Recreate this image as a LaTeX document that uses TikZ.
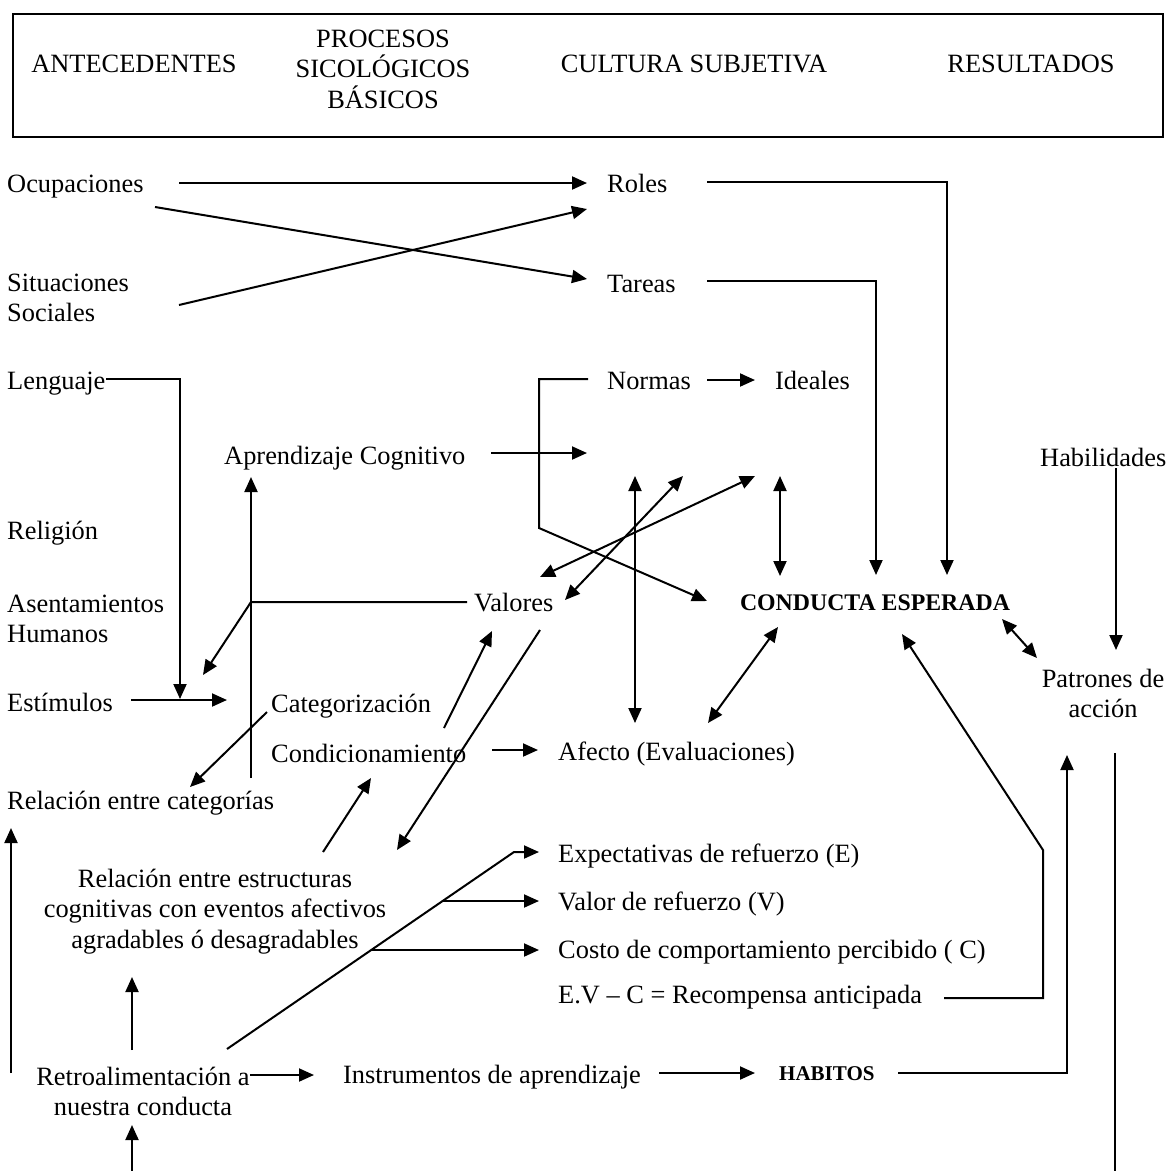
\documentclass[tikz,border=0pt]{standalone}
\usepackage{fontspec}
\setmainfont{Liberation Serif}
\usetikzlibrary{arrows.meta}
\newcommand{\ftop}{\rule{0pt}{24pt}}
\begin{document}
\begin{tikzpicture}[x=1pt,y=-1pt,
  txt/.style={inner sep=0pt, font=\fontsize{26.4}{30.5}\selectfont},
  lbl/.style={txt, anchor=base west},
  blk/.style={txt, anchor=north, align=center},
  line/.style={line width=2pt},
  arr/.style={line, -{Triangle[length=15pt,width=13pt]}},
  dbl/.style={line, {Triangle[length=15pt,width=13pt]}-{Triangle[length=15pt,width=13pt]}},
]
\useasboundingbox (0,0) rectangle (1166,1171);
\fill[white] (0,0) rectangle (1166,1171);

% heading band
\node[draw, line width=2.4pt, minimum width=1150pt, minimum height=123pt,
      inner sep=0pt, anchor=north west] (head) at (12,13) {};
\node[txt, anchor=base] (ant) at (134,72) {ANTECEDENTES};
\node[blk] (proc) at (383,23) {\ftop PROCESOS\\SICOLÓGICOS\\BÁSICOS};
\node[txt, anchor=base] (cult) at (694,72) {CULTURA SUBJETIVA};
\node[txt, anchor=base] (res) at (1031,72) {RESULTADOS};

% antecedents
\node[lbl] (ocup) at (7,192) {Ocupaciones};
\node[txt, anchor=north west, align=left] (situ) at (7,267) {\ftop Situaciones\\Sociales};
\node[lbl] (leng) at (7,389) {Lenguaje};
\node[lbl] (relig) at (7,539) {Religión};
\node[txt, anchor=north west, align=left] (asent) at (7,588) {\ftop Asentamientos\\Humanos};
\node[lbl] (estim) at (7,711) {Estímulos};
\node[lbl] (relcat) at (7,809) {Relación entre categorías};
\node[blk] (relest) at (215,863) {\ftop Relación entre estructuras\\cognitivas con eventos afectivos\\agradables ó desagradables};
\node[blk] (retro) at (143,1061) {\ftop Retroalimentación a\\nuestra conducta};

% processes and subjective culture
\node[lbl] (aprend) at (224,464) {Aprendizaje Cognitivo};
\node[lbl] (categ) at (271,712) {Categorización};
\node[lbl] (cond) at (271,762) {Condicionamiento};
\node[lbl] (valores) at (474,611) {Valores};
\node[lbl] (afecto) at (558,760) {Afecto (Evaluaciones)};
\node[lbl] (roles) at (607,192) {Roles};
\node[lbl] (tareas) at (607,292) {Tareas};
\node[lbl] (normas) at (607,389) {Normas};
\node[lbl] (ideales) at (775,389) {Ideales};
\node[lbl] (expec) at (558,862) {Expectativas de refuerzo (E)};
\node[lbl] (valor) at (558,910) {Valor de refuerzo (V)};
\node[lbl] (costo) at (558,958) {Costo de comportamiento percibido ( C)};
\node[lbl] (evc) at (558,1003) {E.V – C = Recompensa anticipada};
\node[lbl] (instr) at (343,1083) {Instrumentos de aprendizaje};
\node[txt, anchor=base west, font=\fontsize{21}{24}\selectfont\bfseries] (habit) at (779,1080) {HABITOS};

% results
\node[txt, anchor=base, font=\fontsize{23.8}{27}\selectfont\bfseries] (conducta) at (875,610) {CONDUCTA ESPERADA};
\node[lbl] (habil) at (1040,466) {Habilidades};
\node[blk] (patr) at (1103,663) {\ftop Patrones de\\acción};

% connector end points
\coordinate (c1a) at (179,183);  \coordinate (c1b) at (587,183);
\coordinate (c2a) at (155,207);  \coordinate (c2b) at (587,279);
\coordinate (c3a) at (179,305);  \coordinate (c3b) at (587,209);
\coordinate (lenA) at (106,379); \coordinate (lenB) at (180,379); \coordinate (lenC) at (180,699);
\coordinate (estA) at (131,700); \coordinate (estB) at (227,700);
\coordinate (aprA) at (491,453); \coordinate (aprB) at (587,453);
\coordinate (vtA) at (251,778);  \coordinate (vtB) at (251,477);
\coordinate (valA) at (467,602); \coordinate (valJ) at (251,602); \coordinate (valB) at (203,675);
\coordinate (catA) at (267,712); \coordinate (catB) at (190,787);
\coordinate (condA) at (492,750); \coordinate (condB) at (538,750);
\coordinate (condV1) at (444,728); \coordinate (condV2) at (492,631);
\coordinate (valD1) at (540,630); \coordinate (valD2) at (397,850);
\coordinate (reC1) at (323,852); \coordinate (reC2) at (371,778);
\coordinate (norA) at (588,379); \coordinate (norB) at (539,379);
\coordinate (norC) at (539,528); \coordinate (norD) at (707,601);
\coordinate (niA) at (707,380);  \coordinate (niB) at (755,380);
\coordinate (rolA) at (707,182); \coordinate (rolB) at (947,182); \coordinate (rolC) at (947,575);
\coordinate (tarA) at (707,281); \coordinate (tarB) at (876,281); \coordinate (tarC) at (876,575);
\coordinate (d1a) at (635,476);  \coordinate (d1b) at (635,723);
\coordinate (d2a) at (683,476);  \coordinate (d2b) at (565,600);
\coordinate (d3a) at (755,476);  \coordinate (d3b) at (540,577);
\coordinate (d4a) at (780,476);  \coordinate (d4b) at (780,576);
\coordinate (d5a) at (708,723);  \coordinate (d5b) at (778,627);
\coordinate (habA) at (1116,468); \coordinate (habB) at (1116,650);
\coordinate (d6a) at (1002,619); \coordinate (d6b) at (1037,658);
\coordinate (evA) at (944,998);  \coordinate (evB) at (1043,998);
\coordinate (evC) at (1043,850); \coordinate (evD) at (902,634);
\coordinate (hbA) at (898,1073); \coordinate (hbB) at (1067,1073); \coordinate (hbC) at (1067,755);
\coordinate (vrA) at (1115,753); \coordinate (vrB) at (1115,1171);
\coordinate (riA) at (250,1075); \coordinate (riB) at (314,1075);
\coordinate (ihA) at (659,1073); \coordinate (ihB) at (755,1073);
\coordinate (ruA) at (132,1050); \coordinate (ruB) at (132,977);
\coordinate (rbA) at (132,1171); \coordinate (rbB) at (132,1125);
\coordinate (lfA) at (11,1073);  \coordinate (lfB) at (11,828);
\coordinate (dgA) at (227,1049); \coordinate (dgB) at (514,852); \coordinate (dgC) at (539,852);
\coordinate (vlA) at (443,901);  \coordinate (vlB) at (539,901);
\coordinate (csA) at (371,950);  \coordinate (csB) at (539,950);

% connectors
\draw[arr] (c1a) -- (c1b);
\draw[arr] (c2a) -- (c2b);
\draw[arr] (c3a) -- (c3b);
\draw[arr] (lenA) -- (lenB) -- (lenC);
\draw[arr] (estA) -- (estB);
\draw[arr] (aprA) -- (aprB);
\draw[arr] (vtA) -- (vtB);
\draw[arr] (valA) -- (valJ) -- (valB);
\draw[arr] (catA) -- (catB);
\draw[arr] (condA) -- (condB);
\draw[arr] (condV1) -- (condV2);
\draw[arr] (valD1) -- (valD2);
\draw[arr] (reC1) -- (reC2);
\draw[arr] (norA) -- (norB) -- (norC) -- (norD);
\draw[arr] (niA) -- (niB);
\draw[arr] (rolA) -- (rolB) -- (rolC);
\draw[arr] (tarA) -- (tarB) -- (tarC);
\draw[dbl] (d1a) -- (d1b);
\draw[dbl] (d2a) -- (d2b);
\draw[dbl] (d3a) -- (d3b);
\draw[dbl] (d4a) -- (d4b);
\draw[dbl] (d5a) -- (d5b);
\draw[arr] (habA) -- (habB);
\draw[dbl] (d6a) -- (d6b);
\draw[arr] (evA) -- (evB) -- (evC) -- (evD);
\draw[arr] (hbA) -- (hbB) -- (hbC);
\draw[line] (vrA) -- (vrB);
\draw[arr] (riA) -- (riB);
\draw[arr] (ihA) -- (ihB);
\draw[arr] (ruA) -- (ruB);
\draw[arr] (rbA) -- (rbB);
\draw[arr] (lfA) -- (lfB);
\draw[arr] (dgA) -- (dgB) -- (dgC);
\draw[arr] (vlA) -- (vlB);
\draw[arr] (csA) -- (csB);
\end{tikzpicture}
\end{document}
